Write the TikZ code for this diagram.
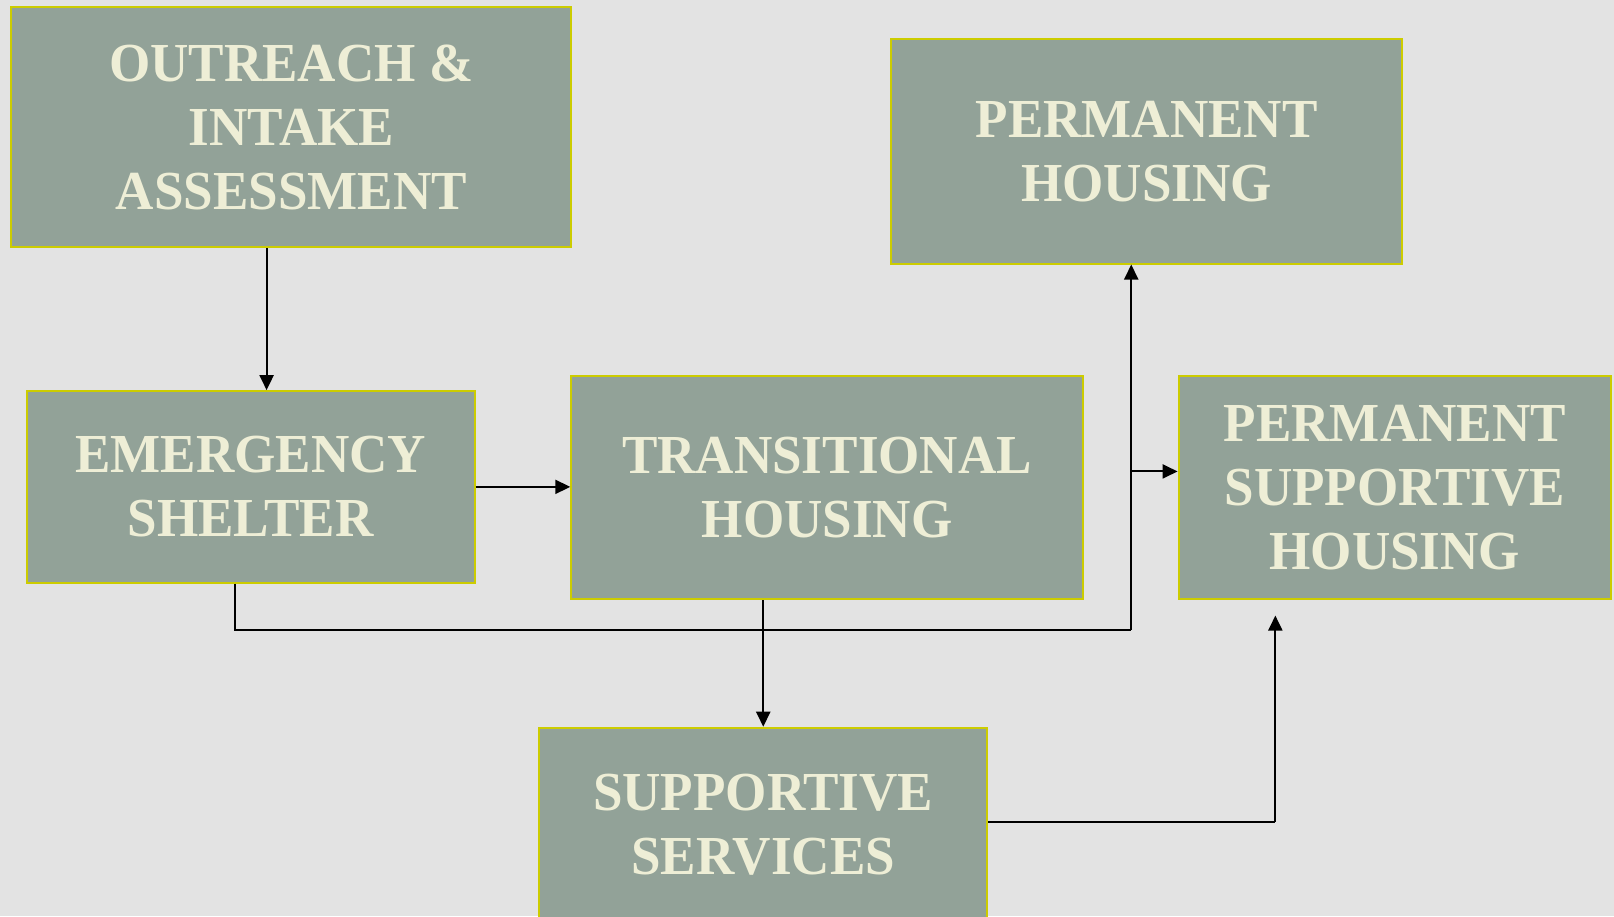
\documentclass[tikz,border=0pt]{standalone}
\usepackage{fontspec}
\setmainfont{Liberation Serif}[FakeStretch=0.965]
\usetikzlibrary{arrows.meta}
\definecolor{bgc}{RGB}{227,227,227}
\definecolor{boxc}{RGB}{146,162,152}
\definecolor{txtc}{RGB}{238,238,214}
\definecolor{brdc}{RGB}{204,204,0}
\def\sc{1.0293}
\tikzset{
  flowbox/.style={draw=brdc, line width=2pt, fill=boxc, text=txtc, align=center,
    inner sep=0pt, font=\bfseries\fontsize{55}{64}\selectfont},
  flowtext/.style={text=txtc, align=center, inner sep=0pt, font=\bfseries\fontsize{55}{64}\selectfont},
  conn/.style={line width=2pt, black},
  arr/.style={conn, -{Triangle[length=15pt,width=14pt]}}
}
\begin{document}
\begin{tikzpicture}[x=1.0293pt,y=-1.0293pt]
\fill[bgc] (0,0) rectangle (1568,890);
\useasboundingbox (0,0) rectangle (1568,890);

\node[flowbox, minimum width=\sc*544pt, minimum height=\sc*233pt] (out) at (283,123.5) {OUTREACH \&\\INTAKE\\ASSESSMENT};
\node[flowbox, minimum width=\sc*496pt, minimum height=\sc*218pt] (ph) at (1114,147) {PERMANENT\\HOUSING};
\node[flowbox, minimum width=\sc*435pt, minimum height=\sc*186pt] (es) at (243.5,473) {EMERGENCY\\SHELTER};
\node[flowbox, minimum width=\sc*497pt, minimum height=\sc*217pt] (th) at (803.5,473.5) {TRANSITIONAL\\HOUSING};
\node[flowbox, minimum width=\sc*420pt, minimum height=\sc*217pt] (psh) at (1355,473.5) {PERMANENT\\SUPPORTIVE\\HOUSING};
\node[flowbox, minimum width=\sc*435pt, minimum height=\sc*230pt] (ss) at (741.5,822) {};
\node[flowtext] (sst) at (741.5,801) {SUPPORTIVE\\SERVICES};

\coordinate (c1) at (259,0);
\coordinate (j1) at (228,612);
\coordinate (j2) at (1099,612);
\coordinate (j3) at (1099,458);
\coordinate (j4) at (1239,799);
\coordinate (j5) at (1239,598);

\draw[arr] (out.south -| c1) -- (es.north -| c1);
\draw[arr] (es.east) -- (th.west |- es.east);
\draw[conn] (es.south -| j1) -- (j1) -- (j2);
\draw[arr] (j2) -- (ph.south -| j2);
\draw[arr] (j3) -- (psh.west |- j3);
\draw[arr] (th.south -| ss.north) -- (ss.north);
\draw[conn] (ss.east |- j4) -- (j4);
\draw[arr] (j4) -- (j5);
\end{tikzpicture}
\end{document}
